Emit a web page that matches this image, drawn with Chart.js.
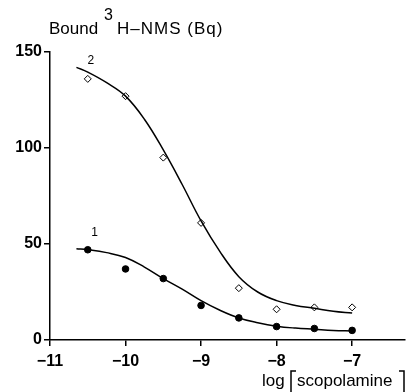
<!DOCTYPE html>
<html>
<head>
<meta charset="utf-8">
<script src="https://cdn.jsdelivr.net/npm/chart.js@4.4.1/dist/chart.umd.min.js"></script>
<style>
  html, body { margin: 0; padding: 0; background: #fff; }
  #wrap { width: 410px; height: 392px; position: relative; }
</style>
</head>
<body>
<div id="wrap"><canvas id="c" width="410" height="392"></canvas></div>
<script>
// ---- data ----
const logConc = [-10.5, -10, -9.5, -9, -8.5, -8, -7.5, -7];
const bound2 = [136, 127, 95, 61, 27, 16, 17, 17];   // series 2 (open diamonds)
const bound1 = [47, 37, 32, 18, 11.5, 7, 6, 5];      // series 1 (filled points)
// fitted curves
const curveX  = [-10.65, -10.5, -10.25, -10, -9.75, -9.5, -9.25, -9, -8.75, -8.5, -8.25, -8, -7.75, -7.5, -7.25, -7];
const curve2Y = [142, 139.5, 134, 127, 115, 99, 81, 62, 46, 33, 25, 20.5, 18, 16.5, 15, 14];
const curve1Y = [47.5, 47, 45.5, 43, 38, 32, 26.5, 20.5, 15.5, 11.5, 9, 7.2, 6.2, 5.6, 5, 4.7];
const xTicks = [-11, -10, -9, -8, -7];
const yTicks = [0, 50, 100, 150];
const curveLabels = [{text: '2', x: -10.46, y: 144}, {text: '1', x: -10.41, y: 54}];

const FONT = '"Liberation Sans", Arial, Helvetica, sans-serif';
const pts = (xs, ys) => xs.map((x, i) => ({x: x, y: ys[i]}));

const annot = {
  id: 'annot',
  afterDraw(chart) {
    const ctx = chart.ctx;
    const xs = chart.scales.x, ys = chart.scales.y;
    ctx.save();
    ctx.fillStyle = '#000';
    ctx.strokeStyle = '#000';
    ctx.textBaseline = 'alphabetic';
    ctx.textAlign = 'left';
    // y title with superscript
    ctx.font = '17px ' + FONT;
    ctx.fillText('Bound', 49, 34);
    ctx.font = '16px ' + FONT;
    ctx.fillText('3', 104, 20);
    ctx.font = '17px ' + FONT;
    ctx.letterSpacing = '1px';
    ctx.fillText('H\u2013NMS (Bq)', 117, 34);
    ctx.letterSpacing = '0px';
    // x title
    ctx.font = '17px ' + FONT;
    ctx.fillText('log', 262, 386);
    ctx.fillText('scopolamine', 297, 386);
    ctx.lineWidth = 1.5;
    ctx.beginPath();
    ctx.moveTo(296, 371); ctx.lineTo(291, 371); ctx.lineTo(291, 392);
    ctx.moveTo(399, 371); ctx.lineTo(404, 371); ctx.lineTo(404, 392);
    ctx.stroke();
    // curve labels
    ctx.font = '12px ' + FONT;
    ctx.textAlign = 'center';
    curveLabels.forEach(l => ctx.fillText(l.text, xs.getPixelForValue(l.x), ys.getPixelForValue(l.y)));
    ctx.restore();
  }
};

new Chart(document.getElementById('c'), {
  type: 'scatter',
  data: {
    datasets: [
      { label: 'curve 2', type: 'line', data: pts(curveX, curve2Y), borderColor: '#000', borderWidth: 1.5,
        pointRadius: 0, fill: false, tension: 0.4 },
      { label: 'curve 1', type: 'line', data: pts(curveX, curve1Y), borderColor: '#000', borderWidth: 1.5,
        pointRadius: 0, fill: false, tension: 0.4 },
      { label: '2', data: pts(logConc, bound2), pointStyle: 'rectRot', pointRadius: 3.5,
        backgroundColor: '#fff', borderColor: '#000', borderWidth: 1 },
      { label: '1', data: pts(logConc, bound1), pointStyle: 'circle', pointRadius: 3.3,
        backgroundColor: '#000', borderColor: '#000', borderWidth: 1 }
    ]
  },
  options: {
    responsive: false,
    animation: false,
    layout: { padding: { top: 52, right: 0, left: 0, bottom: 0 } },
    plugins: { legend: { display: false }, tooltip: { enabled: false }, title: { display: false } },
    scales: {
      x: {
        type: 'linear', min: -11, max: -6.3,
        afterBuildTicks: s => { s.ticks = xTicks.map(v => ({value: v})); },
        afterFit: s => { s.height = 52; },
        grid: { drawOnChartArea: false, drawTicks: true, tickLength: 6, color: '#000', lineWidth: 1.5 },
        border: { display: true, color: '#000', width: 1.5 },
        ticks: { color: '#000', padding: 6, font: { family: FONT, size: 16, weight: 'bold' },
                 maxRotation: 0, callback: v => String(v).replace('-', '\u2212') }
      },
      y: {
        type: 'linear', min: 0, max: 150,
        afterBuildTicks: s => { s.ticks = yTicks.map(v => ({value: v})); },
        afterFit: s => { s.width = 50; },
        grid: { drawOnChartArea: false, drawTicks: true, tickLength: 6, color: '#000', lineWidth: 1.5 },
        border: { display: true, color: '#000', width: 1.5 },
        ticks: { color: '#000', padding: 2, font: { family: FONT, size: 16, weight: 'bold' } }
      }
    }
  },
  plugins: [annot]
});
</script>
</body>
</html>
